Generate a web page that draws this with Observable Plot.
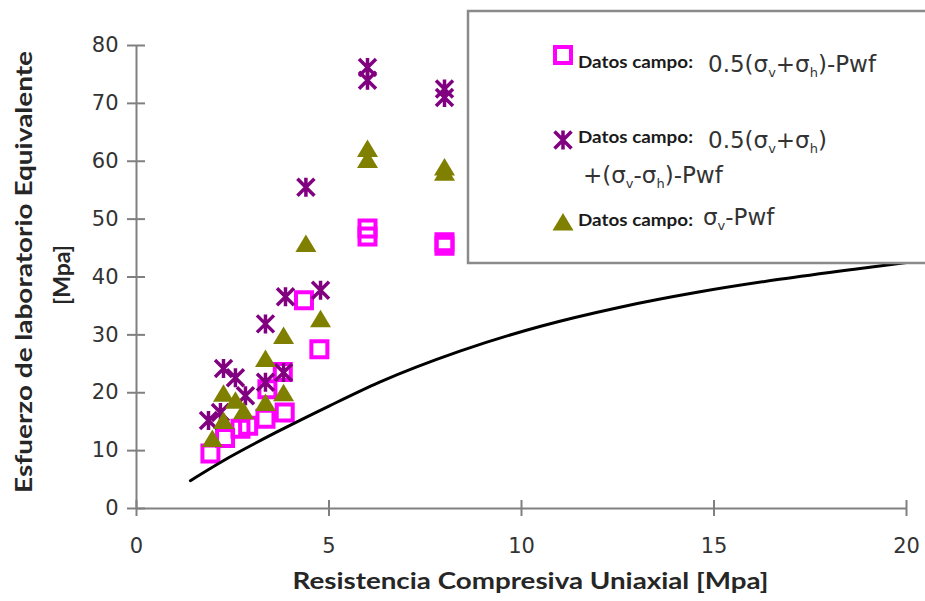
<!DOCTYPE html>
<html><head><meta charset="utf-8">
<script src="https://cdn.jsdelivr.net/npm/d3@7"></script>
<script src="https://cdn.jsdelivr.net/npm/@observablehq/plot@0.6"></script>
<style>
body{margin:0;background:#fff}
#chart{width:925px;height:601px}
</style>
</head><body><div id="chart"></div>
<script>
// ---- texts / ticks ----
const xTicks = [0, 5, 10, 15, 20];
const yTicks = [0, 10, 20, 30, 40, 50, 60, 70, 80];
const xTitle = "Resistencia Compresiva Uniaxial [Mpa]";
const yTitle1 = "Esfuerzo de laboratorio Equivalente";
const yTitle2 = "[Mpa]";
const legendPrefix = "Datos campo:";

// ---- series 1: 0.5(σv+σh)-Pwf  (squares) ----
const sqX = [1.92, 2.3, 2.7, 2.9, 3.35, 3.4, 3.85, 3.8, 4.35, 4.75, 6.0, 6.0, 8.0, 8.0];
const sqY = [9.5, 12.2, 13.8, 14.3, 15.5, 20.6, 16.6, 23.6, 36.0, 27.5, 47.0, 48.4, 45.4, 46.0];

// ---- series 2: 0.5(σv+σh)+(σv-σh)-Pwf  (asterisks) ----
const stX = [1.87, 2.18, 2.26, 2.57, 2.83, 3.35, 3.35, 3.82, 3.87, 4.4, 4.78, 6.0, 6.0, 8.0, 8.0];
const stY = [15.2, 16.6, 24.2, 22.6, 19.5, 21.8, 31.9, 23.5, 36.6, 55.5, 37.7, 76.2, 74.0, 72.5, 71.0];

// ---- series 3: σv-Pwf  (triangles) ----
const trX = [1.97, 2.26, 2.26, 2.57, 2.78, 3.35, 3.35, 3.82, 3.82, 4.4, 4.78, 6.0, 6.0, 8.0, 8.0];
const trY = [12.1, 15.2, 19.9, 18.7, 16.9, 18.3, 25.9, 20.0, 29.9, 45.8, 32.8, 62.2, 60.3, 59.0, 58.1];

// ---- laboratory curve ----
const curveX = [1.4, 2.4, 3.7, 5.0, 6.3, 8.4, 10.5, 12.5, 14.6, 16.7, 18.7, 20];
const curveY = [4.8, 8.8, 13.4, 17.7, 21.8, 27.2, 31.5, 34.7, 37.4, 39.6, 41.4, 42.5];

const colSquare = "#FF00FF", colStar = "#800080", colTri = "#808000";

const toRows = (xs, ys) => xs.map((x, i) => ({x, y: ys[i]}));
const squares = toRows(sqX, sqY);
const stars = toRows(stX, stY);
const tris = toRows(trX, trY);
const curve = toRows(curveX, curveY);

// custom marker symbols
const symSquare = {draw(c){ const s = 8; c.moveTo(-s,-s); c.lineTo(s,-s); c.lineTo(s,s); c.lineTo(-s,s); c.closePath(); }};
const symStar = {draw(c){ const r = 8.5; c.moveTo(-r,-r); c.lineTo(r,r); c.moveTo(-r,r); c.lineTo(r,-r); c.moveTo(0,-r-1); c.lineTo(0,r+1); }};
const symTri = {draw(c){ c.moveTo(0,-9); c.lineTo(10.5,8.5); c.lineTo(-10.5,8.5); c.closePath(); }};

const axisCol = "#808080", textCol = "#333333";
const titleFont = "Lato, 'Open Sans', sans-serif";
const tickFont = "'DejaVu Sans', sans-serif";

const plot = Plot.plot({
  width: 925, height: 601,
  marginLeft: 136, marginRight: 19, marginTop: 45, marginBottom: 93,
  style: {fontFamily: tickFont, fontSize: "21px", color: textCol, background: "white"},
  x: {domain: [0, 20]},
  y: {domain: [0, 80]},
  marks: [
    Plot.ruleX([0], {stroke: axisCol, strokeWidth: 2}),
    Plot.ruleY([0], {stroke: axisCol, strokeWidth: 2}),
    // crossing tick marks
    Plot.axisY({ticks: yTicks, tickSize: 18, dx: 9, tickFormat: () => "", label: null, stroke: axisCol, strokeWidth: 2}),
    Plot.axisX({ticks: xTicks, tickSize: 16, dy: -8, tickFormat: () => "", label: null, stroke: axisCol, strokeWidth: 2}),
    // tick labels
    Plot.axisY({ticks: yTicks, tickSize: 0, tickPadding: 18, label: null, fontSize: 21, fill: textCol}),
    Plot.axisX({ticks: xTicks, tickSize: 0, tickPadding: 30, label: null, fontSize: 21, fill: textCol}),
    // axis titles
    Plot.text([xTitle], {frameAnchor: "bottom", dy: 73, dx: 9, textAnchor: "middle", fontFamily: titleFont, fontWeight: "bold", fontSize: 23, fill: "#262626", lineAnchor: "middle"}),
    Plot.text([yTitle1], {frameAnchor: "left", dx: -112, dy: -5, rotate: -90, textAnchor: "middle", fontFamily: titleFont, fontWeight: "bold", fontSize: 23, fill: "#262626", lineAnchor: "middle"}),
    Plot.text([yTitle2], {frameAnchor: "left", dx: -74, dy: -2, rotate: -90, textAnchor: "middle", fontFamily: titleFont, fontWeight: "bold", fontSize: 23, fill: "#262626", lineAnchor: "middle"}),
    // data
    Plot.dot(squares, {x: "x", y: "y", symbol: symSquare, stroke: colSquare, strokeWidth: 4, fill: "none"}),
    Plot.dot(stars, {x: "x", y: "y", symbol: symStar, stroke: colStar, strokeWidth: 3.5, fill: "none"}),
    Plot.dot(tris, {x: "x", y: "y", symbol: symTri, fill: colTri, stroke: "none"}),
    Plot.line(curve, {x: "x", y: "y", curve: "monotone-x", stroke: "black", strokeWidth: 3})
  ]
});

document.getElementById("chart").appendChild(plot);
const svg = d3.select(plot);

// stretch titles to match the reference widths
svg.selectAll("text").each(function(){
  const t = this.textContent;
  if (t === xTitle) d3.select(this).attr("textLength", 476).attr("lengthAdjust", "spacingAndGlyphs");
  if (t === yTitle1) d3.select(this).attr("textLength", 442).attr("lengthAdjust", "spacingAndGlyphs");
});

// ---- legend ----
const lg = svg.append("g").attr("class", "legend").attr("text-anchor", "start");
lg.append("rect").attr("x", 468).attr("y", 11).attr("width", 480).attr("height", 252)
  .attr("fill", "white").attr("stroke", "#8a8a8a").attr("stroke-width", 2.5);

function marker(sym, x, y, style){
  const p = lg.append("path").attr("d", d3.symbol(sym)()).attr("transform", `translate(${x},${y})`);
  Object.entries(style).forEach(([k,v]) => p.attr(k, v));
}
function prefix(y){
  lg.append("text").attr("x", 578).attr("y", y).text(legendPrefix)
    .attr("text-anchor", "start")
    .attr("font-family", titleFont).attr("font-weight", "bold").attr("font-size", 17)
    .attr("fill", "#1a1a1a").attr("textLength", 115).attr("lengthAdjust", "spacingAndGlyphs");
}
// parts: array of [text, isSub]
function formula(x, y, parts){
  const t = lg.append("text").attr("x", x).attr("y", y).attr("text-anchor", "start")
    .attr("font-family", tickFont).attr("font-size", 23).attr("fill", textCol);
  let sub = false;
  parts.forEach(([s, isSub]) => {
    const ts = t.append("tspan").text(s);
    if (isSub && !sub) ts.attr("dy", 5).attr("font-size", 13);
    else if (isSub) ts.attr("font-size", 13);
    else if (!isSub && sub) ts.attr("dy", -5);
    sub = isSub;
  });
}
marker(symSquare, 563, 55, {fill: "none", stroke: colSquare, "stroke-width": 4});
prefix(68);
formula(708, 72, [["0.5(σ",0],["v",1],["+σ",0],["h",1],[")-Pwf",0]]);

marker(symStar, 563, 140, {fill: "none", stroke: colStar, "stroke-width": 3.5});
prefix(143);
formula(708, 148, [["0.5(σ",0],["v",1],["+σ",0],["h",1],[")",0]]);
formula(583, 183, [["+(σ",0],["v",1],["-σ",0],["h",1],[")-Pwf",0]]);

marker(symTri, 563, 222, {fill: colTri, stroke: "none"});
prefix(226);
formula(703, 225, [["σ",0],["v",1],["-Pwf",0]]);
</script>
</body></html>
